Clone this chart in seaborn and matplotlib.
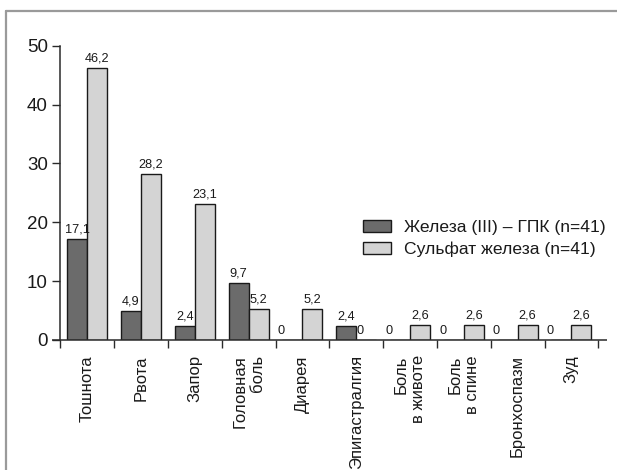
import matplotlib
matplotlib.use("Agg")
import matplotlib.pyplot as plt
from matplotlib.lines import Line2D
import seaborn as sns
import pandas as pd

categories = ["Тошнота", "Рвота", "Запор", "Головная\nболь", "Диарея",
              "Эпигастралгия", "Боль\nв животе", "Боль\nв спине", "Бронхоспазм", "Зуд"]
series_names = ["Железа (III) – ГПК (n=41)", "Сульфат железа (n=41)"]
fe3_gpk = [17.1, 4.9, 2.4, 9.7, 0, 2.4, 0, 0, 0, 0]
fe_sulfate = [46.2, 28.2, 23.1, 5.2, 5.2, 0, 2.6, 2.6, 2.6, 2.6]
y_ticks = [0, 10, 20, 30, 40, 50]

sns.set_style("white")
plt.rcParams['font.family'] = ['Liberation Sans', 'DejaVu Sans']

df = pd.DataFrame({
    "cat": categories * 2,
    "val": fe3_gpk + fe_sulfate,
    "group": [series_names[0]] * len(categories) + [series_names[1]] * len(categories),
})

fig = plt.figure(figsize=(6.17, 4.70), dpi=100)
W, H = 617, 470
ax_left, ax_right = 60.3, 598.3
ax_top, ax_bottom = 45.7, 340.0
ax = fig.add_axes([ax_left / W, 1 - ax_bottom / H, (ax_right - ax_left) / W, (ax_bottom - ax_top) / H])

dark, light = "#6b6b6b", "#d4d4d4"
sns.barplot(data=df, x="cat", y="val", hue="group", hue_order=series_names,
            order=categories, palette=[dark, light], saturation=1,
            edgecolor="#1a1a1a", linewidth=1.0, width=0.74, ax=ax)

ax.set_xlim(-0.5, len(categories) - 0.5)
ax.set_ylim(0, 50)
ax.set_yticks(y_ticks)
ax.set_xlabel("")
ax.set_ylabel("")

# value labels
zero_shift = [-8, -4.5]
for k, (container, vals) in enumerate(zip(ax.containers, [fe3_gpk, fe_sulfate])):
    for bar, v in zip(container, vals):
        txt = "0" if v == 0 else f"{v:.1f}".replace(".", ",")
        dx = zero_shift[k] if v == 0 else 0
        ax.annotate(txt, (bar.get_x() + bar.get_width() / 2, bar.get_height()),
                    xytext=(dx, 2.5), textcoords="offset points",
                    ha="center", va="bottom", fontsize=9.2,
                    family=['Liberation Sans Narrow', 'Liberation Sans', 'DejaVu Sans'],
                    color="#1a1a1a")

# spines
for s in ["top", "right", "bottom"]:
    ax.spines[s].set_visible(False)
ax.spines["left"].set_color("#2a2a2a")
ax.spines["left"].set_linewidth(1.1)
ext = 8.5 / (ax_right - ax_left)
ax.plot([-ext, 1 + ext], [0, 0], transform=ax.transAxes,
        color="#2a2a2a", lw=1.1, clip_on=False, solid_capstyle="butt")

# ticks
ax.tick_params(axis="y", direction="out", length=6, width=1.0, color="#2a2a2a",
               labelsize=13.5, pad=3, left=True, labelcolor="#1a1a1a")
ax.set_xticks(range(len(categories)))
ax.set_xticklabels(categories, rotation=90, fontsize=12, color="#1a1a1a",
                   multialignment="right")
ax.tick_params(axis="x", length=0, pad=11)
ax.set_xticks([i - 0.5 for i in range(len(categories) + 1)], minor=True)
ax.tick_params(axis="x", which="minor", direction="out", length=6, width=1.0,
               color="#2a2a2a", bottom=True)

# legend
handles, labels = ax.get_legend_handles_labels()
ax.legend(handles, labels, loc="upper left",
          bbox_to_anchor=(354 / W, 1 - 211 / H), bbox_transform=fig.transFigure,
          frameon=False, fontsize=12.6, borderpad=0, handlelength=1.6,
          handleheight=0.7, handletextpad=0.75, labelspacing=0.38,
          labelcolor="#1a1a1a")

# outer frame (left and top)
fig.add_artist(Line2D([5.5 / W, 5.5 / W], [0, 1 - 11 / H], color="#9a9a9a", lw=1.6,
                      transform=fig.transFigure))
fig.add_artist(Line2D([5.5 / W, 1], [1 - 11 / H, 1 - 11 / H], color="#9a9a9a", lw=1.6,
                      transform=fig.transFigure))

fig.savefig("out.png", dpi=100)
